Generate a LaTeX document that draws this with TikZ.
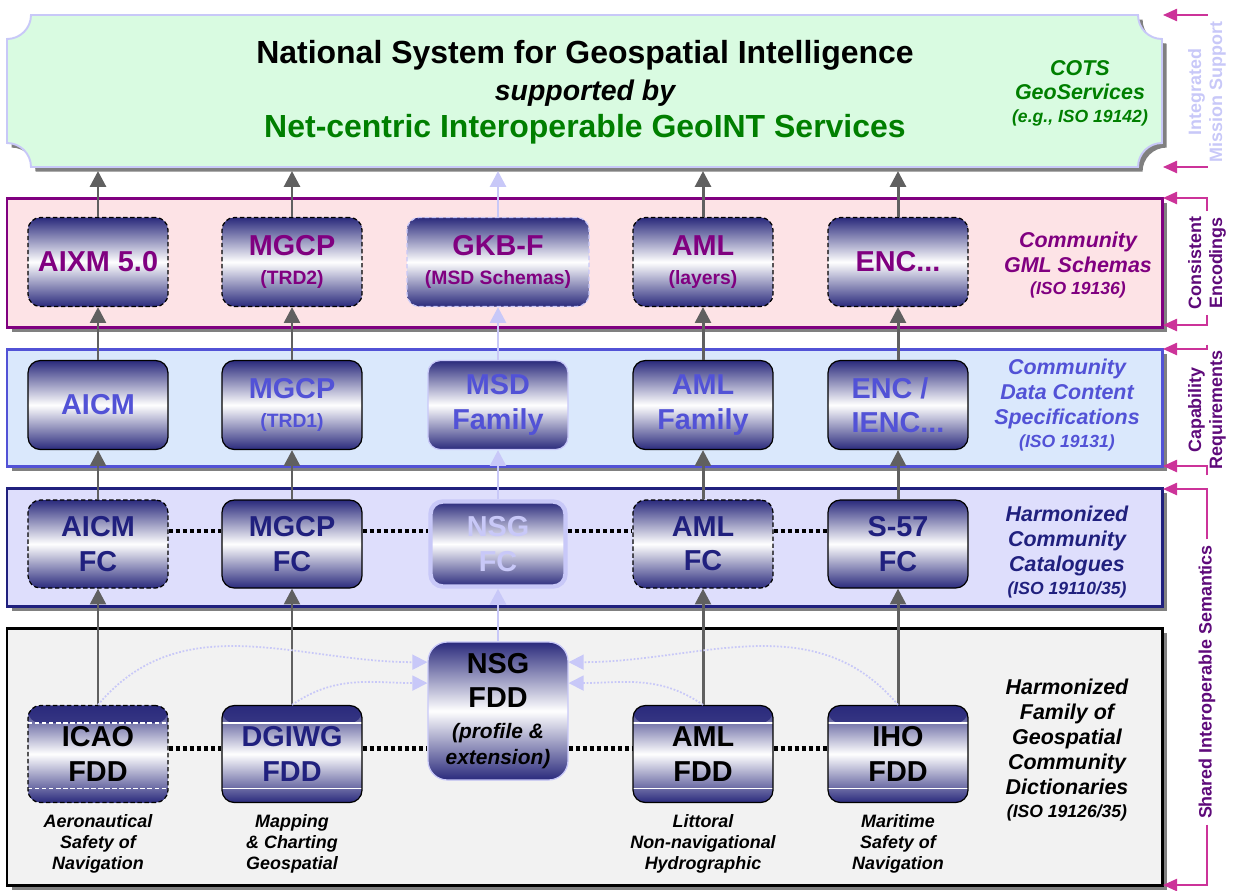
\documentclass[tikz,border=0pt]{standalone}
\usepackage{fontspec}
\setmainfont{Liberation Sans}
\usetikzlibrary{arrows.meta,shapes,positioning,shadows}

\definecolor{BoxNavy}{HTML}{2A2A7C}
\definecolor{GeoGreen}{HTML}{007F00}
\definecolor{GmlPurple}{HTML}{800080}
\definecolor{DcsBlue}{HTML}{5252D6}
\definecolor{FcNavy}{HTML}{20207E}
\definecolor{Lav}{HTML}{C8C8F8}
\definecolor{BracketPink}{HTML}{CC3399}
\definecolor{RailPurple}{HTML}{5E0A7A}
\definecolor{MintFill}{HTML}{D9FBE1}
\definecolor{PinkFill}{HTML}{FDE3E6}
\definecolor{SkyFill}{HTML}{DAE8FC}
\definecolor{LilacFill}{HTML}{DEDEFC}
\definecolor{GreyFill}{HTML}{F2F2F2}
\definecolor{ArrowGrey}{HTML}{606060}
\definecolor{ShadowGrey}{HTML}{808080}

\newcommand{\TitleFont}{\fontsize{18.2pt}{21pt}\selectfont\bfseries}
\newcommand{\SupFont}{\fontsize{16.2pt}{21pt}\selectfont\bfseries\itshape}
\newcommand{\BoxFont}{\fontsize{16.4pt}{19.5pt}\selectfont\bfseries}
\newcommand{\SubFont}{\fontsize{11pt}{13pt}\selectfont}
\newcommand{\NoteFont}{\fontsize{11.9pt}{14pt}\selectfont\itshape}
\newcommand{\SideFont}{\fontsize{12.2pt}{14.2pt}\selectfont\bfseries\itshape}
\newcommand{\IsoFont}{\fontsize{10pt}{12pt}\selectfont}
\newcommand{\CapFont}{\fontsize{10.2pt}{12pt}\selectfont\bfseries\itshape}
\newcommand{\RailFont}{\fontsize{10.2pt}{12pt}\selectfont\bfseries}

\begin{document}
\begin{tikzpicture}[x=0.02cm,y=0.02cm]
  \useasboundingbox (0,0) rectangle (1234,-890);
  \tikzset{PanelStyle/.style = {line width   = 1.7pt,
                                drop shadow  = {shadow xshift = 2.6pt,
                                                shadow yshift = -2.6pt,
                                                fill          = ShadowGrey,
                                                opacity       = 1}}}
  \tikzset{BoxStyle/.style   = {shape          = rectangle,
                                rounded corners = 7pt,
                                draw           = black,
                                line width     = 0.7pt,
                                top color      = BoxNavy,
                                bottom color   = BoxNavy,
                                middle color   = white,
                                minimum width  = 2.8cm,
                                minimum height = 1.78cm,
                                inner sep      = 0pt,
                                align          = center,
                                font           = \BoxFont}}
  \tikzset{DashedBox/.style  = {BoxStyle,
                                dash pattern   = on 2.5pt off 1.5pt}}
  \tikzset{FaintBox/.style   = {BoxStyle,
                                draw           = Lav}}
  \tikzset{BandBox/.style    = {BoxStyle,
                                minimum height = 1.94cm,
                                path picture   = {
     \shade[top color=BoxNavy, bottom color=BoxNavy!70!white]
       (path picture bounding box.north west) rectangle ([yshift=-10pt]path picture bounding box.north east);
     \shade[top color=BoxNavy!70!white, bottom color=BoxNavy]
       ([yshift=8pt]path picture bounding box.south west) rectangle (path picture bounding box.south east);
     \draw[white, line width=0.8pt]
       ([yshift=-10pt]path picture bounding box.north west) -- ([yshift=-10pt]path picture bounding box.north east);
     \draw[white, line width=0.8pt]
       ([yshift=8pt]path picture bounding box.south west) -- ([yshift=8pt]path picture bounding box.south east);}}}
  \tikzset{ArrowStyle/.style = {draw           = ArrowGrey,
                                line width     = 1.7pt,
                                -{Triangle[length=9pt,width=9pt]}}}
  \tikzset{LavArrow/.style   = {ArrowStyle,
                                draw           = Lav}}
  \tikzset{DotStyle/.style   = {draw           = black,
                                line width     = 2.6pt,
                                dash pattern   = on 2.4pt off 1.6pt}}
  \tikzset{CurveStyle/.style = {draw           = Lav,
                                line width     = 1pt,
                                dash pattern   = on 1pt off 1pt,
                                -{Triangle[length=8.5pt,width=8.5pt]}}}
  \tikzset{SideStyle/.style  = {align          = center,
                                font           = \SideFont}}
  \tikzset{CapStyle/.style   = {align          = center,
                                font           = \CapFont}}
  \tikzset{RailStyle/.style  = {rotate         = 90,
                                align          = center,
                                font           = \RailFont,
                                inner sep      = 3pt}}
  \tikzset{BracketStyle/.style = {draw         = BracketPink,
                                line width     = 0.9pt,
                                -{Triangle[length=8pt,width=7pt]}}}

  % layers
  \draw[PanelStyle, fill=PinkFill, draw=GmlPurple] (7,-198) rectangle (1162,-327);
  \draw[PanelStyle, fill=SkyFill, draw=DcsBlue]    (7,-349) rectangle (1162,-466);
  \draw[PanelStyle, fill=LilacFill, draw=FcNavy]   (7,-488) rectangle (1162,-606);
  \draw[PanelStyle, fill=GreyFill, draw=black]     (7,-628) rectangle (1162,-885);

  % banner
  \draw[PanelStyle, line width=1.1pt, fill=MintFill, draw=Lav]
    (31,-15) -- (1138,-15) arc[start angle=180, end angle=270, radius=24]
    -- (1162,-143) arc[start angle=90, end angle=180, radius=24]
    -- (31,-167) arc[start angle=0, end angle=90, radius=24]
    -- (7,-39) arc[start angle=270, end angle=360, radius=24] -- cycle;
  \coordinate (BannerBase) at (0,-171);
  \node[align=center, font=\TitleFont] (Title) at (585,-92)
    {National System for Geospatial Intelligence\\
     {\SupFont supported by}\\
     {\color{GeoGreen}Net-centric Interoperable GeoINT Services}};
  \node[SideStyle, text=GeoGreen] (COTS) at (1080,-93)
    {COTS\\GeoServices\\[-1.5pt]{\IsoFont (e.g., ISO 19142)}};

  % community GML schemas
  \node[DashedBox, text=GmlPurple] (AIXM)      at (98,-262)  {AIXM 5.0};
  \node[DashedBox, text=GmlPurple] (MGCPtwo)   at (292,-262) {MGCP\\[-3pt]{\SubFont (TRD2)}};
  \node[FaintBox, dash pattern=on 2.5pt off 1.5pt, text=GmlPurple,
        minimum width=3.64cm]      (GKBF)      at (498,-262) {GKB-F\\[-3pt]{\SubFont (MSD Schemas)}};
  \node[DashedBox, text=GmlPurple] (AMLlayers) at (703,-262) {AML\\[-3pt]{\SubFont (layers)}};
  \node[DashedBox, text=GmlPurple] (ENC)       at (898,-262) {ENC...};
  \node[SideStyle, text=GmlPurple] (GML) at (1078,-265)
    {Community\\GML Schemas\\[-1.5pt]{\IsoFont (ISO 19136)}};

  % data content specifications
  \node[BoxStyle, text=DcsBlue] (AICM)      at (98,-405)  {AICM};
  \node[BoxStyle, text=DcsBlue] (MGCPone)   at (292,-405) {MGCP\\[-3pt]{\SubFont (TRD1)}};
  \node[FaintBox, text=DcsBlue] (MSD)       at (498,-405) {MSD\\Family};
  \node[BoxStyle, text=DcsBlue] (AMLfamily) at (703,-405) {AML\\Family};
  \node[BoxStyle, text=DcsBlue, align=left] (IENC) at (898,-405) {ENC /\\IENC...};
  \node[SideStyle, text=DcsBlue] (DCS) at (1067,-405)
    {Community\\Data Content\\Specifications\\[-1.5pt]{\IsoFont (ISO 19131)}};

  % feature catalogues
  \node[DashedBox, text=FcNavy, minimum height=1.76cm] (AICMFC) at (98,-544)  {AICM\\FC};
  \node[BoxStyle, text=FcNavy, minimum height=1.76cm]  (MGCPFC) at (292,-544) {MGCP\\FC};
  \node[FaintBox, text=Lav, line width=2.5pt,
        minimum width=2.7cm, minimum height=1.7cm]      (NSGFC)  at (498,-544) {NSG\\FC};
  \node[DashedBox, text=FcNavy, minimum height=1.76cm] (AMLFC)  at (703,-544) {AML\\FC};
  \node[BoxStyle, text=FcNavy, minimum height=1.76cm]  (SFC)    at (898,-544) {S-57\\FC};
  \node[SideStyle, text=FcNavy] (HCC) at (1067,-552)
    {Harmonized\\Community\\Catalogues\\[-1.5pt]{\IsoFont (ISO 19110/35)}};

  % feature data dictionaries
  \node[BandBox, dash pattern=on 2.5pt off 1.5pt] (ICAO) at (98,-754)  {ICAO\\FDD};
  \node[BandBox, text=FcNavy]  (DGIWG)  at (292,-754) {DGIWG\\FDD};
  \node[FaintBox, rounded corners=11pt, minimum height=2.76cm] (NSGFDD) at (498,-711)
    {NSG\\FDD\\[-2pt]{\NoteFont (profile \&}\\[-4.5pt]{\NoteFont extension)}};
  \node[BandBox]               (AMLFDD) at (703,-754) {AML\\FDD};
  \node[BandBox]               (IHO)    at (898,-754) {IHO\\FDD};
  \node[SideStyle] (HFG) at (1067,-750)
    {Harmonized\\Family of\\Geospatial\\Community\\Dictionaries\\[-1.5pt]{\IsoFont (ISO 19126/35)}};

  \node[CapStyle, below=3pt of ICAO]   (ICAOcap)  {Aeronautical\\Safety of\\Navigation};
  \node[CapStyle, below=3pt of DGIWG]  (DGIWGcap) {Mapping\\\& Charting\\Geospatial};
  \node[CapStyle, below=3pt of AMLFDD] (AMLcap)   {Littoral\\Non-navigational\\Hydrographic};
  \node[CapStyle, below=3pt of IHO]    (IHOcap)   {Maritime\\Safety of\\Navigation};

  % upward flow
  \draw[ArrowStyle] (ICAO) -- (AICMFC);
  \draw[ArrowStyle] (AICMFC) -- (AICM);
  \draw[ArrowStyle] (AICM) -- (AIXM);
  \draw[ArrowStyle] (AIXM) -- (AIXM.north |- BannerBase);
  \draw[ArrowStyle] (DGIWG) -- (MGCPFC);
  \draw[ArrowStyle] (MGCPFC) -- (MGCPone);
  \draw[ArrowStyle] (MGCPone) -- (MGCPtwo);
  \draw[ArrowStyle] (MGCPtwo) -- (MGCPtwo.north |- BannerBase);
  \draw[LavArrow] (NSGFDD) -- (NSGFC);
  \draw[LavArrow] (NSGFC) -- (MSD);
  \draw[LavArrow] (MSD) -- (GKBF);
  \draw[LavArrow] (GKBF) -- (GKBF.north |- BannerBase);
  \draw[ArrowStyle] (AMLFDD) -- (AMLFC);
  \draw[ArrowStyle] (AMLFC) -- (AMLfamily);
  \draw[ArrowStyle] (AMLfamily) -- (AMLlayers);
  \draw[ArrowStyle] (AMLlayers) -- (AMLlayers.north |- BannerBase);
  \draw[ArrowStyle] (IHO) -- (SFC);
  \draw[ArrowStyle] (SFC) -- (IENC);
  \draw[ArrowStyle] (IENC) -- (ENC);
  \draw[ArrowStyle] (ENC) -- (ENC.north |- BannerBase);

  % harmonization links
  \draw[DotStyle] ([yshift=7.4pt]AICMFC.east) -- ([yshift=7.4pt]MGCPFC.west);
  \draw[DotStyle] ([yshift=7.4pt]MGCPFC.east) -- ([yshift=7.4pt]NSGFC.west);
  \draw[DotStyle] ([yshift=7.4pt]NSGFC.east) -- ([yshift=7.4pt]AMLFC.west);
  \draw[DotStyle] ([yshift=7.4pt]AMLFC.east) -- ([yshift=7.4pt]SFC.west);
  \draw[DotStyle] ([yshift=3pt]ICAO.east) -- ([yshift=3pt]DGIWG.west);
  \draw[DotStyle] ([yshift=3pt]DGIWG.east) -- ([yshift=3pt]DGIWG.east -| NSGFDD.west);
  \draw[DotStyle] ([yshift=3pt]NSGFDD.east |- AMLFDD.west) -- ([yshift=3pt]AMLFDD.west);
  \draw[DotStyle] ([yshift=3pt]AMLFDD.east) -- ([yshift=3pt]IHO.west);

  \draw[CurveStyle] (ICAO.north)   to[out=50, in=180]  ([yshift=27.8pt]NSGFDD.west);
  \draw[CurveStyle] (DGIWG.north)  to[out=35, in=180]  ([yshift=15.9pt]NSGFDD.west);
  \draw[CurveStyle] (AMLFDD.north) to[out=145, in=0]   ([yshift=15.9pt]NSGFDD.east);
  \draw[CurveStyle] (IHO.north)    to[out=130, in=0]   ([yshift=27.8pt]NSGFDD.east);

  % brackets on the right
  \node[RailStyle, text=Lav]        (IMS) at (1207,-92)  {Integrated\\Mission Support};
  \node[RailStyle, text=RailPurple] (CE)  at (1207,-263) {Consistent\\Encodings};
  \node[RailStyle, text=RailPurple] (CR)  at (1207,-410) {Capability\\Requirements};
  \node[RailStyle, text=RailPurple] (SIS) at (1207,-682) {Shared Interoperable Semantics};
  \coordinate (IMStop) at (1163,-15);
  \coordinate (IMSbot) at (1163,-167);
  \coordinate (CEtop)  at (1163,-198);
  \coordinate (CEbot)  at (1163,-325);
  \coordinate (CRtop)  at (1163,-349);
  \coordinate (CRbot)  at (1163,-466);
  \coordinate (SIStop) at (1163,-489);
  \coordinate (SISbot) at (1163,-885);
  \draw[BracketStyle] (IMS.east) |- (IMStop);
  \draw[BracketStyle] (IMS.west) |- (IMSbot);
  \draw[BracketStyle] (CE.east)  |- (CEtop);
  \draw[BracketStyle] (CE.west)  |- (CEbot);
  \draw[BracketStyle] (CR.east)  |- (CRtop);
  \draw[BracketStyle] (CR.west)  |- (CRbot);
  \draw[BracketStyle] (SIS.east) |- (SIStop);
  \draw[BracketStyle] (SIS.west) |- (SISbot);
\end{tikzpicture}
\end{document}
